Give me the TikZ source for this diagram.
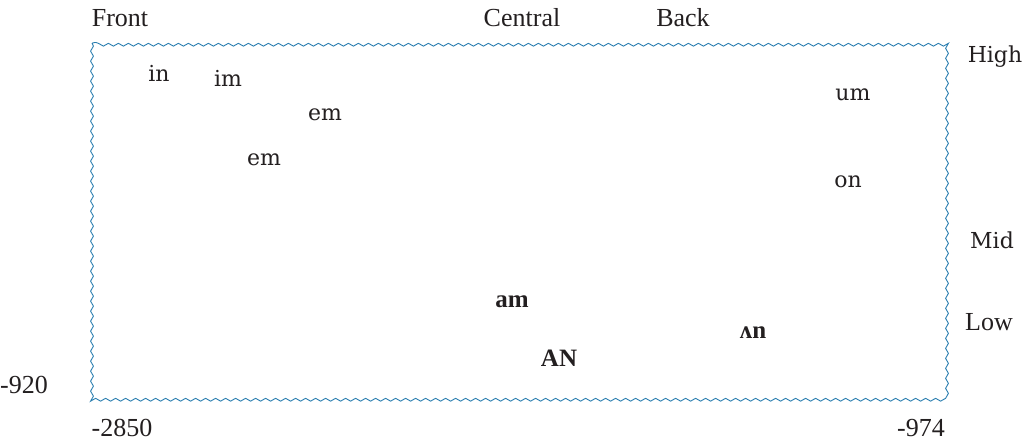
\documentclass[tikz,border=0pt]{standalone}
\usepackage{fontspec}
\newfontfamily\timesf{Liberation Serif}
\newfontfamily\dejaf{DejaVu Serif}
\usetikzlibrary{decorations.pathmorphing}
\definecolor{txt}{RGB}{35,31,32}
\definecolor{wave}{RGB}{40,125,175}
\tikzset{
  tlab/.style={text=txt, font=\timesf\fontsize{26}{30}\selectfont, inner sep=0pt},
  lmlab/.style={text=txt, font=\dejaf\fontsize{22}{26}\selectfont, inner sep=0pt},
  boldlab/.style={text=txt, font=\timesf\bfseries\fontsize{25}{29}\selectfont, inner sep=0pt},
  wavy/.style={draw=wave, line width=0.9pt, decorate, decoration={snake, amplitude=1.4pt, segment length=10pt}}
}
\begin{document}
\begin{tikzpicture}[x=1pt,y=-1pt]
\useasboundingbox (0,0) rectangle (1028,445);
\coordinate (tl) at (92,43);
\coordinate (br) at (948,398);
\draw[wavy] (tl) rectangle (br);
% axis labels
\node[tlab] (front) at (120,18) {Front};
\node[tlab] (central) at (522,18) {Central};
\node[tlab] (back) at (683,18) {Back};
\node[lmlab] (high) at (995,57) {High};
\node[lmlab] (mid) at (992,240) {Mid};
\node[tlab] (low) at (989,322) {Low};
\node[tlab] (ym) at (24,385) {-920};
\node[tlab] (xmin) at (122,428) {-2850};
\node[tlab] (xmax) at (921,428) {-974};
% vowels
\node[lmlab] (in) at (159,73) {in};
\node[lmlab] (im) at (228,78) {im};
\node[lmlab] (em1) at (325,115) {em};
\node[lmlab] (em2) at (264,160) {em};
\node[lmlab] (um) at (853,95) {um};
\node[lmlab] (on) at (848,182) {on};
\node[boldlab] (am) at (512,302) {am};
\node[boldlab] (AN) at (559,358) {AN};
\node[boldlab] (vn) at (753,333) {ʌn};
\end{tikzpicture}
\end{document}
